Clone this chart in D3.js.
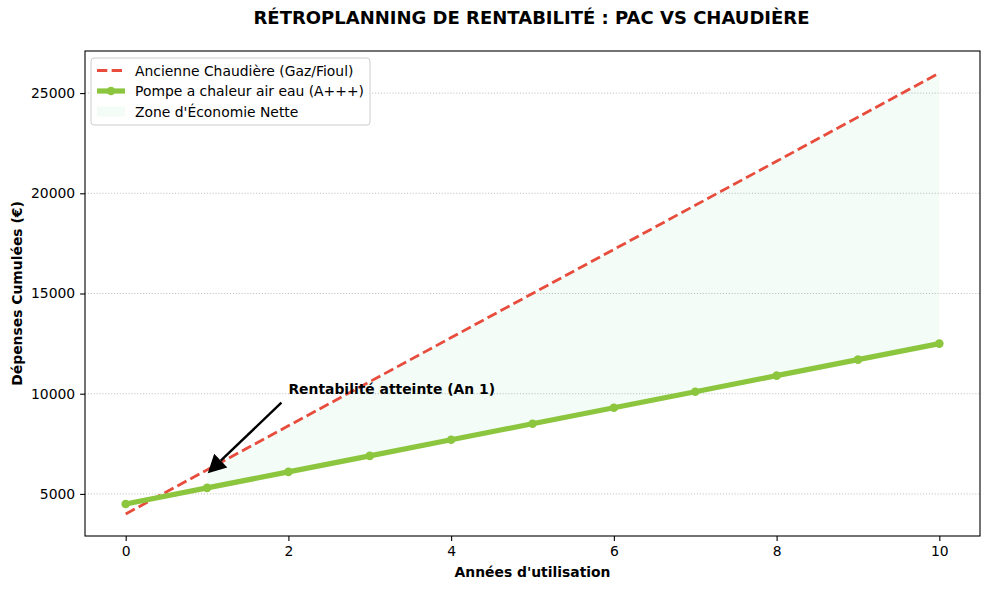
<!DOCTYPE html>
<html>
<head>
<meta charset="utf-8">
<script src="https://cdn.jsdelivr.net/npm/d3@7"></script>
<style>
  body { margin: 0; background: #fff; }
  svg { font-family: "DejaVu Sans", sans-serif; }
  .tick text { font-size: 13.9px; fill: #000; }
  .grid line { stroke: #b0b0b0; stroke-dasharray: 1.1,1.8; stroke-width: 0.8; }
</style>
</head>
<body>
<script>
// years of use
const years = [0, 1, 2, 3, 4, 5, 6, 7, 8, 9, 10];
// cumulated spending (€)
const boiler = [4000, 6200, 8400, 10600, 12800, 15000, 17200, 19400, 21600, 23800, 26000];
const heatPump = [4500, 5300, 6100, 6900, 7700, 8500, 9300, 10100, 10900, 11700, 12500];
const xTicks = [0, 2, 4, 6, 8, 10];
const yTicks = [5000, 10000, 15000, 20000, 25000];
const seriesNames = ['Ancienne Chaudière (Gaz/Fioul)', 'Pompe a chaleur air eau (A+++)', "Zone d'Économie Nette"];
const annotation = { label: 'Rentabilité atteinte (An 1)', x: 1, y: 6000, textX: 2, textY: 10000 };

const width = 990;
const height = 589;
const margin = { top: 51, right: 10, bottom: 53, left: 85 };

const data = years.map((y, i) => ({ year: y, boiler: boiler[i], pac: heatPump[i] }));

const svg = d3.select('body')
  .append('svg')
    .attr('width', width)
    .attr('height', height);

const xScale = d3.scaleLinear()
  .domain([-0.5, 10.5])
  .range([margin.left, width - margin.right]);

const yMin = d3.min(data, d => Math.min(d.boiler, d.pac));
const yMax = d3.max(data, d => Math.max(d.boiler, d.pac));
const pad = (yMax - yMin) * 0.05;
const yScale = d3.scaleLinear()
  .domain([yMin - pad, yMax + pad])
  .range([height - margin.bottom, margin.top]);

// horizontal grid
svg.append('g')
  .attr('class', 'grid')
  .selectAll('line')
  .data(yTicks)
  .enter()
  .append('line')
    .attr('x1', margin.left)
    .attr('x2', width - margin.right)
    .attr('y1', d => yScale(d))
    .attr('y2', d => yScale(d));

// saving zone, only where the boiler costs more
const saving = data.filter(d => d.boiler >= d.pac);
svg.append('path')
  .datum(saving)
  .attr('fill', '#2ecc71')
  .attr('fill-opacity', 0.06)
  .attr('d', d3.area()
    .x(d => xScale(d.year))
    .y0(d => yScale(d.pac))
    .y1(d => yScale(d.boiler)));

// boiler line
svg.append('path')
  .datum(data)
  .attr('fill', 'none')
  .attr('stroke', '#e74c3c')
  .attr('stroke-width', 2.8)
  .attr('stroke-dasharray', '10.3,4.4')
  .attr('d', d3.line().x(d => xScale(d.year)).y(d => yScale(d.boiler)));

// heat pump line + markers
svg.append('path')
  .datum(data)
  .attr('fill', 'none')
  .attr('stroke', '#8cc63f')
  .attr('stroke-width', 5.2)
  .attr('stroke-linejoin', 'round')
  .attr('d', d3.line().x(d => xScale(d.year)).y(d => yScale(d.pac)));

svg.append('g')
  .selectAll('circle')
  .data(data)
  .enter()
  .append('circle')
    .attr('cx', d => xScale(d.year))
    .attr('cy', d => yScale(d.pac))
    .attr('r', 4.3)
    .attr('fill', '#8cc63f');

// frame
svg.append('rect')
  .attr('x', margin.left)
  .attr('y', margin.top)
  .attr('width', width - margin.left - margin.right)
  .attr('height', height - margin.top - margin.bottom)
  .attr('fill', 'none')
  .attr('stroke', '#000')
  .attr('stroke-width', 1.1);

// axes
const xAxis = svg.append('g')
  .attr('transform', `translate(0,${height - margin.bottom})`)
  .call(d3.axisBottom(xScale).tickValues(xTicks).tickSize(4.9).tickPadding(4.9));
const yAxis = svg.append('g')
  .attr('transform', `translate(${margin.left},0)`)
  .call(d3.axisLeft(yScale).tickValues(yTicks).tickFormat(d3.format('d')).tickSize(4.9).tickPadding(4.9));
[xAxis, yAxis].forEach(a => {
  a.select('.domain').remove();
  a.selectAll('.tick line').attr('stroke', '#000').attr('stroke-width', 1.1);
  a.attr('font-size', null).attr('font-family', null);
});

// axis labels
svg.append('text')
  .attr('x', (margin.left + width - margin.right) / 2)
  .attr('y', 577)
  .attr('text-anchor', 'middle')
  .attr('font-size', 13.9)
  .attr('font-weight', 'bold')
  .text("Années d'utilisation");

svg.append('text')
  .attr('transform', `translate(22,${(margin.top + height - margin.bottom) / 2}) rotate(-90)`)
  .attr('text-anchor', 'middle')
  .attr('font-size', 13.9)
  .attr('font-weight', 'bold')
  .text('Dépenses Cumulées (€)');

// title
svg.append('text')
  .attr('x', (margin.left + width - margin.right) / 2 - 1)
  .attr('y', 24)
  .attr('text-anchor', 'middle')
  .attr('font-size', 18)
  .attr('font-weight', 'bold')
  .text('RÉTROPLANNING DE RENTABILITÉ : PAC VS CHAUDIÈRE');

// annotation with arrow
const tx = xScale(annotation.textX), ty = yScale(annotation.textY);
const px = xScale(annotation.x), py = yScale(annotation.y);
svg.append('text')
  .attr('x', tx)
  .attr('y', ty)
  .attr('font-size', 13.9)
  .attr('font-weight', 'bold')
  .text(annotation.label);

const ax0 = tx - 7, ay0 = ty + 9;
const len = Math.hypot(px - ax0, py - ay0);
const ux = (px - ax0) / len, uy = (py - ay0) / len;
const tipX = px - ux * 1, tipY = py - uy * 1;
const headLen = 18, headHalf = 9.5;
const baseX = tipX - ux * headLen, baseY = tipY - uy * headLen;
svg.append('line')
  .attr('x1', ax0).attr('y1', ay0)
  .attr('x2', baseX).attr('y2', baseY)
  .attr('stroke', '#000')
  .attr('stroke-width', 2.4);
svg.append('path')
  .attr('d', `M${tipX},${tipY} L${baseX - uy * headHalf},${baseY + ux * headHalf} L${baseX + uy * headHalf},${baseY - ux * headHalf} Z`)
  .attr('fill', '#000');

// legend
const legend = svg.append('g').attr('transform', 'translate(91,58)');
legend.append('rect')
  .attr('width', 279)
  .attr('height', 67)
  .attr('rx', 3)
  .attr('fill', '#fff')
  .attr('fill-opacity', 0.8)
  .attr('stroke', '#cccccc')
  .attr('stroke-width', 1);
const rows = [12.5, 33, 53.5];
legend.append('line')
  .attr('x1', 6).attr('x2', 34).attr('y1', rows[0]).attr('y2', rows[0])
  .attr('stroke', '#e74c3c').attr('stroke-width', 2.8).attr('stroke-dasharray', '10.3,4.4');
legend.append('line')
  .attr('x1', 6).attr('x2', 34).attr('y1', rows[1]).attr('y2', rows[1])
  .attr('stroke', '#8cc63f').attr('stroke-width', 5.2);
legend.append('circle')
  .attr('cx', 20).attr('cy', rows[1]).attr('r', 4.3).attr('fill', '#8cc63f');
legend.append('rect')
  .attr('x', 6).attr('y', rows[2] - 5).attr('width', 28).attr('height', 10)
  .attr('fill', '#2ecc71').attr('fill-opacity', 0.06);
legend.selectAll('text.lbl')
  .data(seriesNames)
  .enter()
  .append('text')
    .attr('class', 'lbl')
    .attr('x', 44)
    .attr('y', (d, i) => rows[i] + 5)
    .attr('font-size', 13.9)
    .text(d => d);
</script>
</body>
</html>
